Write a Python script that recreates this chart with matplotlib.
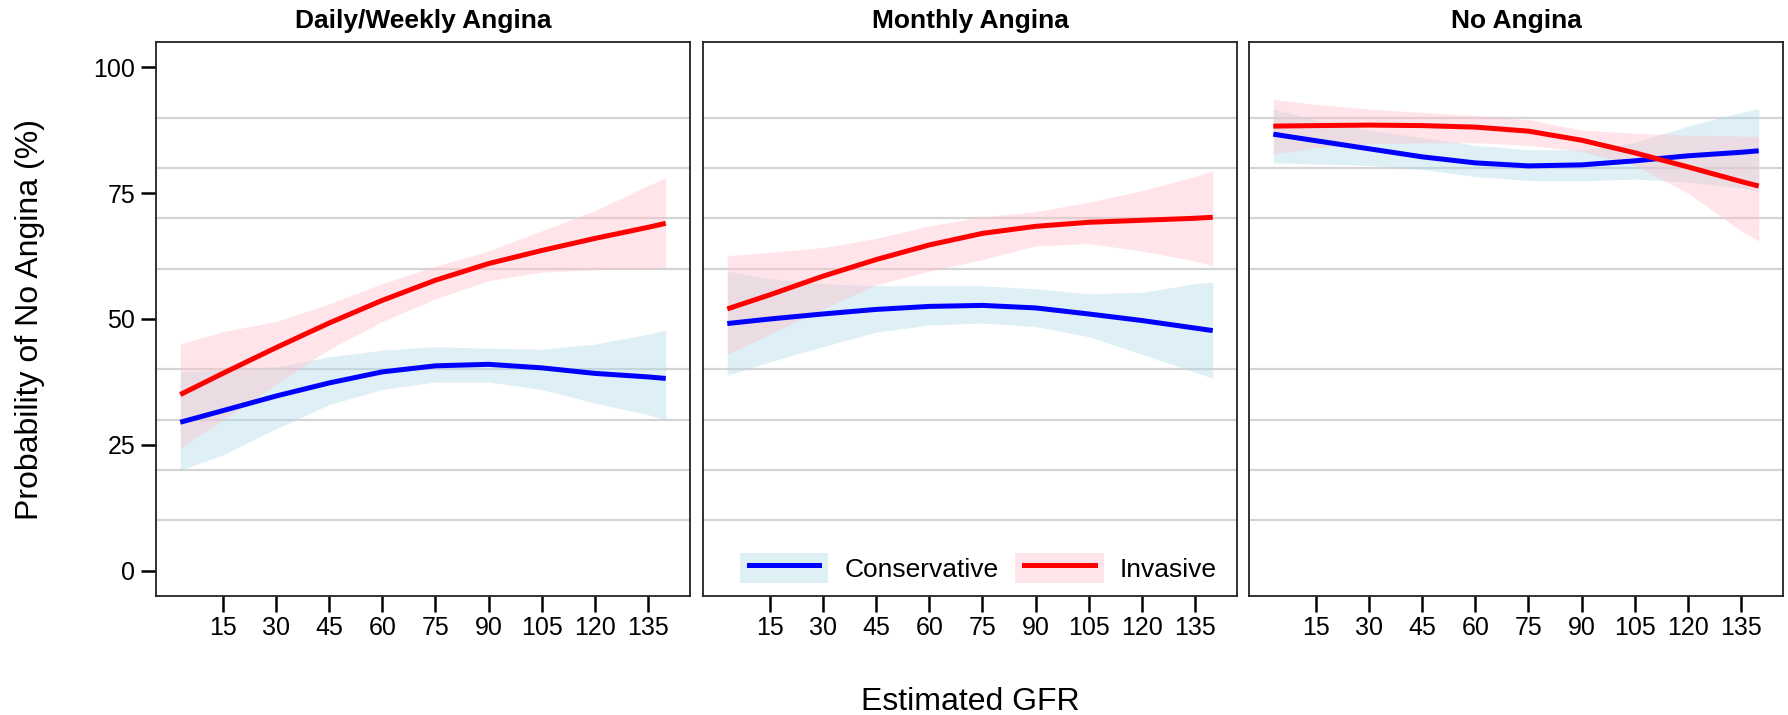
import matplotlib
matplotlib.use("Agg")
import matplotlib.pyplot as plt
import numpy as np
from matplotlib.patches import Patch
from matplotlib.lines import Line2D
from matplotlib.legend_handler import HandlerLine2D

plt.rcParams['font.family'] = ['Liberation Sans', 'DejaVu Sans']

gfr = [3, 15, 30, 45, 60, 75, 90, 105, 120, 135, 140]

panels = ["Daily/Weekly Angina", "Monthly Angina", "No Angina"]

# Conservative (blue) fit and 95% band, one list per panel
cons_fit = [
    [29.5, 31.8, 34.7, 37.3, 39.5, 40.7, 41.0, 40.3, 39.2, 38.5, 38.2],
    [49.1, 50.0, 51.0, 51.9, 52.5, 52.7, 52.2, 51.0, 49.7, 48.2, 47.7],
    [86.7, 85.4, 83.8, 82.2, 81.0, 80.4, 80.6, 81.4, 82.4, 83.1, 83.4],
]
cons_hi = [
    [39.5, 40.0, 40.5, 42.5, 43.8, 44.5, 44.2, 44.0, 45.0, 47.0, 47.8],
    [59.5, 58.0, 57.0, 56.6, 56.6, 56.6, 56.0, 55.0, 55.3, 57.0, 57.3],
    [91.7, 89.5, 87.5, 86.0, 84.5, 83.6, 83.6, 85.0, 88.3, 91.0, 91.7],
]
cons_lo = [
    [20.0, 23.0, 28.2, 33.0, 36.0, 37.5, 37.5, 36.0, 33.3, 31.0, 30.0],
    [38.8, 41.5, 44.5, 47.4, 48.8, 49.2, 48.5, 46.5, 43.0, 39.5, 38.2],
    [81.0, 80.8, 80.5, 79.7, 78.3, 77.5, 77.4, 77.8, 77.2, 76.0, 75.4],
]

# Invasive (red) fit and 95% band
inv_fit = [
    [35.0, 39.2, 44.3, 49.2, 53.7, 57.7, 61.0, 63.6, 66.0, 68.2, 69.0],
    [52.0, 54.8, 58.5, 61.8, 64.7, 67.0, 68.4, 69.2, 69.6, 70.0, 70.2],
    [88.3, 88.4, 88.5, 88.4, 88.1, 87.3, 85.5, 83.0, 80.2, 77.3, 76.4],
]
inv_hi = [
    [45.0, 47.5, 49.5, 53.0, 57.0, 60.5, 63.5, 67.5, 71.5, 76.5, 78.0],
    [62.6, 63.2, 64.2, 66.0, 68.5, 70.3, 71.3, 73.2, 75.5, 78.3, 79.4],
    [93.6, 92.6, 91.7, 91.0, 90.4, 89.6, 87.5, 86.9, 86.5, 86.3, 86.3],
]
inv_lo = [
    [24.4, 30.0, 37.0, 44.0, 49.5, 54.0, 57.6, 59.3, 59.8, 60.0, 60.2],
    [43.0, 47.0, 52.0, 56.8, 59.5, 61.8, 64.5, 65.0, 63.5, 61.5, 60.6],
    [82.8, 84.0, 84.8, 85.0, 85.0, 84.5, 83.3, 80.5, 75.0, 67.5, 65.5],
]

xticks = [15, 30, 45, 60, 75, 90, 105, 120, 135]
yticks = [0, 25, 50, 75, 100]
ygrid = [0, 10, 20, 30, 40, 50, 60, 70, 80, 90, 100]

fig = plt.figure(figsize=(17.88, 7.15), dpi=100)
lefts = [156, 703, 1249]
axes = []
for i, name in enumerate(panels):
    ax = fig.add_axes([lefts[i] / 1788, 1 - 596 / 715, 534 / 1788, 554 / 715])
    axes.append(ax)

    # blue band + line first, then the pink band over it (tints the blue line)
    ax.fill_between(gfr, cons_lo[i], cons_hi[i], color='lightblue', alpha=0.4, lw=0)
    ax.plot(gfr, cons_fit[i], color='#0000FF', lw=3.6, solid_capstyle='butt')
    ax.fill_between(gfr, inv_lo[i], inv_hi[i], color='pink', alpha=0.42, lw=0)
    ax.plot(gfr, inv_fit[i], color='#FF0000', lw=3.6, solid_capstyle='butt')

    ax.set_xlim(-3.85, 146.85)
    ax.set_ylim(-5, 105)
    ax.set_xticks(xticks)
    ax.set_yticks(yticks)
    ax.set_yticks(ygrid, minor=True)
    ax.grid(which='minor', axis='y', color='#d4d4d4', lw=1.6)
    ax.grid(which='major', visible=False)
    ax.set_axisbelow(True)
    ax.tick_params(which='minor', length=0)
    ax.tick_params(axis='x', which='major', length=11.5, width=1.8,
                   labelsize=18, pad=3, color='black')
    if i == 0:
        ax.tick_params(axis='y', which='major', length=11, width=1.8,
                       labelsize=18, pad=4, color='black')
    else:
        ax.tick_params(axis='y', which='both', left=False, labelleft=False)
    for sp in ax.spines.values():
        sp.set_color('#222222')
        sp.set_linewidth(1.3)
    ax.set_title(name, fontsize=19, fontweight='bold', pad=10)

# legend inside the middle panel
h_cons = (Patch(facecolor='lightblue', alpha=0.4, lw=0),
          Line2D([], [], color='#0000FF', lw=3.6))
h_inv = (Patch(facecolor='pink', alpha=0.42, lw=0),
         Line2D([], [], color='#FF0000', lw=3.6))
axes[1].legend([h_cons, h_inv], ["Conservative", "Invasive"],
               handler_map={Line2D: HandlerLine2D(marker_pad=0.34)},
               numpoints=2, ncol=2, frameon=False, fontsize=19,
               loc='center', bbox_to_anchor=(0.515, 0.05),
               handlelength=3.36, handleheight=1.38,
               handletextpad=0.6, columnspacing=0.63, borderpad=0)

fig.text(970 / 1788, 1 - 710 / 715, "Estimated GFR", fontsize=23,
         ha='center', va='baseline')
fig.text(38 / 1788, 1 - 319 / 715, "Probability of No Angina (%)", fontsize=23,
         rotation=90, rotation_mode='anchor', ha='center', va='baseline')

fig.savefig("out.png", dpi=100)
